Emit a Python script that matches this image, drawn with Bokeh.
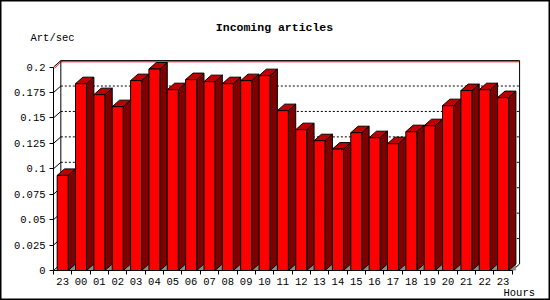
from bokeh.plotting import figure
from bokeh.models import Range1d, FixedTicker, LinearAxis
from bokeh.core.properties import value
from bokeh.embed import file_html
from bokeh.resources import INLINE

# ---- data ----
hours = ["23", "00", "01", "02", "03", "04", "05", "06", "07", "08", "09", "10",
         "11", "12", "13", "14", "15", "16", "17", "18", "19", "20", "21", "22", "23"]
values = [0.0935, 0.1837, 0.1729, 0.1611, 0.1867, 0.1981, 0.1778, 0.1877, 0.1857,
          0.1837, 0.1867, 0.1916, 0.1572, 0.1385, 0.1276, 0.1194, 0.1355, 0.1306,
          0.1247, 0.1365, 0.1424, 0.1621, 0.1769, 0.1778, 0.1700]
y_ticks = [0, 0.025, 0.05, 0.075, 0.1, 0.125, 0.15, 0.175, 0.2]
y_tick_labels = ["0", "0.025", "0.05", "0.075", "0.1", "0.125", "0.15", "0.175", "0.2"]
title_text = "Incoming articles"
y_title = "Art/sec"
x_title = "Hours"

# ---- layout / style ----
W, H = 550, 300
AX_LEFT_PX, AX_BOTTOM_PX = 53, 270   # where the front axes sit on the canvas
PX_SLOT = 18.35          # pixels per category slot
PX_UNIT = 1017.0         # pixels per value unit
DX = 0.4                 # 3D depth in slots
DY = 6.5 / PX_UNIT       # 3D depth in value units
Y_MAX = y_ticks[-1]
n = len(values)

x0 = -0.5
x_start = x0 - AX_LEFT_PX / PX_SLOT
x_end = x_start + W / PX_SLOT
y_start = -(H - AX_BOTTOM_PX) / PX_UNIT
y_end = y_start + H / PX_UNIT

FONT = "Liberation Mono"
FRONT, SIDE, TOPC, FLOOR = "#ff0000", "#800000", "#c00000", "#8c8c8c"

p = figure(width=W, height=H, output_backend="svg", toolbar_location=None,
           x_range=Range1d(x_start, x_end), y_range=Range1d(y_start, y_end),
           x_axis_location=None, y_axis_location=None,
           min_border=0, background_fill_color="white", border_fill_color="white")
p.outline_line_color = "black"
p.outline_line_width = 2
p.xgrid.visible = False
p.ygrid.visible = False

xl_wall = x0 + DX
xr_wall = (n - 0.5) + DX

# grid lines on back wall and left wall
for v in y_ticks[1:-1]:
    p.line([xl_wall, xr_wall], [v + DY, v + DY], line_color="black",
           line_dash="2 2", line_width=1)
    p.line([x0, xl_wall], [v, v + DY], line_color="black", line_width=1)

# back wall frame
p.line([x0 + 1.0 / PX_SLOT, xl_wall, xr_wall], [Y_MAX - 1.2 / PX_UNIT, Y_MAX + DY - 1.2 / PX_UNIT,
       Y_MAX + DY - 1.2 / PX_UNIT], line_color="#ff0000", line_width=1)
p.line([x0, xl_wall, xr_wall, xr_wall],
       [Y_MAX, Y_MAX + DY, Y_MAX + DY, DY], line_color="black", line_width=1)
p.line([xl_wall, xl_wall], [DY, Y_MAX + DY], line_color="black", line_width=1)
p.line([x0, xl_wall], [0, DY], line_color="black", line_width=1)
p.line([n - 0.5, xr_wall], [0, DY], line_color="black", line_width=1)

# bars
xl = [i - 0.3 for i in range(n)]
xr = [i + 0.3 for i in range(n)]
floor_xs = [[r, r + DX, r + DX] for r in xr]
floor_ys = [[0, 0, DY] for _ in xr]
side_xs = [[r, r + DX, r + DX, r] for r in xr]
side_ys = [[0, DY, v + DY, v] for v in values]
top_xs = [[l, r, r + DX, l + DX] for l, r in zip(xl, xr)]
top_ys = [[v, v, v + DY, v + DY] for v in values]

p.patches(floor_xs, floor_ys, fill_color=FLOOR, line_color=None)
p.patches(side_xs, side_ys, fill_color=SIDE, line_color="black", line_width=1)
p.patches(top_xs, top_ys, fill_color=TOPC, line_color="black", line_width=1)
p.quad(left=xl, right=xr, bottom=0, top=values, fill_color=FRONT,
       line_color="black", line_width=1)

# axes (drawn at fixed data locations inside the canvas-wide frame)
xa = LinearAxis(fixed_location=0)
xa.ticker = FixedTicker(ticks=list(range(n)), minor_ticks=[i - 0.5 for i in range(n + 1)])
xa.major_label_overrides = {i: h for i, h in enumerate(hours)}
xa.major_tick_out = 0
xa.major_tick_in = 0
xa.minor_tick_out = 4
xa.minor_tick_in = 0
xa.minor_tick_line_color = "black"
xa.axis_line_color = "black"
xa.bounds = (x0, n - 0.5)
xa.major_label_standoff = 3
xa.major_label_text_font = FONT
xa.major_label_text_font_size = "10.5px"
xa.major_label_text_color = "black"
p.add_layout(xa, "below")

ya = LinearAxis(fixed_location=x0)
ya.ticker = FixedTicker(ticks=y_ticks, minor_ticks=[])
ya.major_label_overrides = {t: s for t, s in zip(y_ticks, y_tick_labels)}
ya.major_tick_out = 4
ya.major_tick_in = 0
ya.axis_line_color = "black"
ya.major_tick_line_color = "black"
ya.bounds = (0, Y_MAX)
ya.major_label_standoff = 4
ya.major_label_text_font = FONT
ya.major_label_text_font_size = "10.5px"
ya.major_label_text_color = "black"
p.add_layout(ya, "left")


def px2x(px):
    return x_start + px / PX_SLOT


def px2y(py):
    return y_end - py / PX_UNIT


p.text(x=[px2x(274)], y=[px2y(27)], text=[title_text], text_font=value(FONT),
       text_font_style="bold", text_font_size="11.5px",
       text_align="center", text_baseline="middle", text_color="black")
p.text(x=[px2x(30)], y=[px2y(37)], text=[y_title], text_font=value(FONT),
       text_font_size="10.5px", text_align="left",
       text_baseline="middle", text_color="black")
p.text(x=[px2x(503)], y=[px2y(292)], text=[x_title], text_font=value(FONT),
       text_font_size="10.5px", text_align="left",
       text_baseline="middle", text_color="black")

open("out.html", "w").write(file_html(p, INLINE))
